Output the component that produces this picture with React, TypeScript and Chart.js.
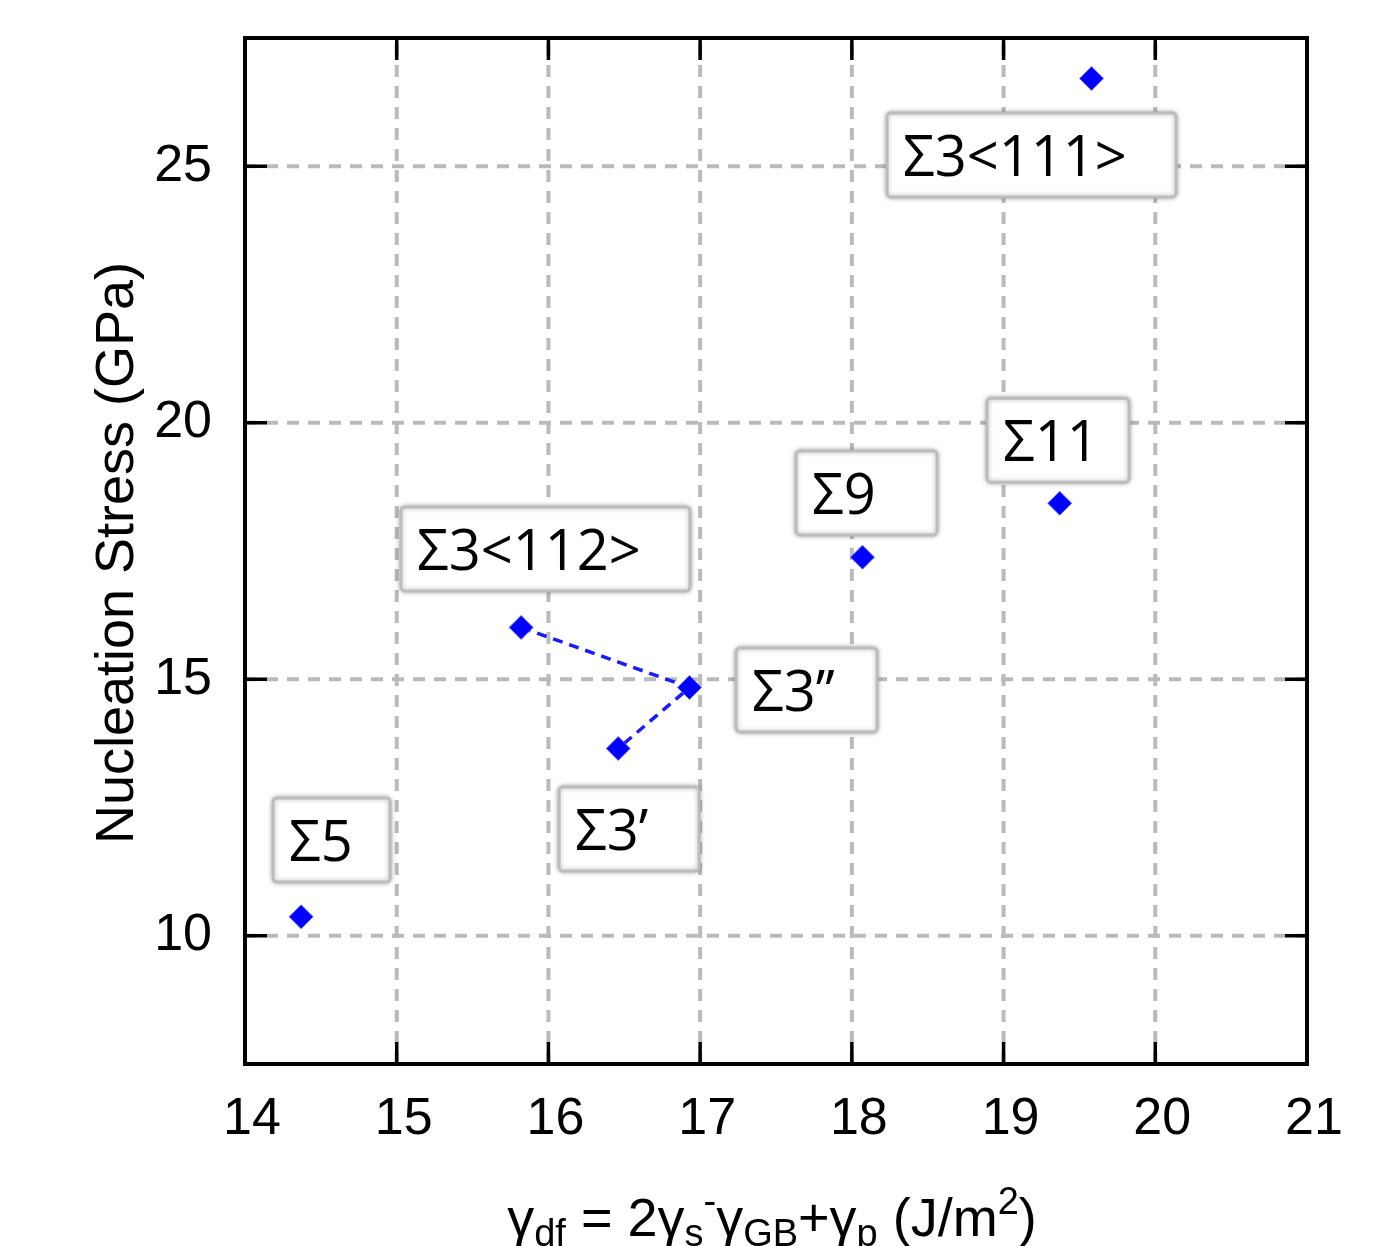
import { useEffect, useRef } from "react";
import { Chart, registerables } from "chart.js";

Chart.register(...registerables);

// ---- data ----
const categories = ["Σ5", "Σ3<112>", "Σ3’’", "Σ3’", "Σ9", "Σ11", "Σ3<111>"];
const xValues = [14.37, 15.82, 16.93, 16.46, 18.07, 19.37, 19.58];
const yValues = [10.37, 16.01, 14.84, 13.65, 17.38, 18.43, 26.71];
const linkedIndices = [1, 2, 3];
const xTicks = [14, 15, 16, 17, 18, 19, 20, 21];
const yTicks = [10, 15, 20, 25];
const xRange = [14, 21];
const yRange = [7.5, 27.5];

// ---- annotation placement (data units of box top-left) ----
const labelAnchorX = [14.185, 15.028, 17.237, 16.07, 17.632, 18.891, 18.232];
const labelAnchorY = [12.685, 18.36, 15.61, 12.9, 19.45, 20.48, 26.04];
const labelBoxWidths = [117, 289, 141, 140, 141, 142, 289];
const labelBoxHeight = 84;

const AXIS_FONT = "'Liberation Sans', Arial, sans-serif";
const LABEL_FONT = "'Open Sans', 'Noto Sans', sans-serif";

const framePlugin = {
  id: "framePlugin",
  beforeDatasetsDraw(chart: any) {
    const { ctx, chartArea: a, scales } = chart;
    const x = scales.x;
    const y = scales.y;
    ctx.save();
    ctx.strokeStyle = "#bababa";
    ctx.lineWidth = 4;
    ctx.setLineDash([12, 9]);
    xTicks.forEach((v) => {
      if (v <= xRange[0] || v >= xRange[1]) return;
      const px = x.getPixelForValue(v);
      ctx.beginPath();
      ctx.moveTo(px, a.bottom);
      ctx.lineTo(px, a.top);
      ctx.stroke();
    });
    yTicks.forEach((v) => {
      const py = y.getPixelForValue(v);
      ctx.beginPath();
      ctx.moveTo(a.left, py);
      ctx.lineTo(a.right, py);
      ctx.stroke();
    });
    ctx.restore();
  },
  afterDatasetsDraw(chart: any) {
    const { ctx, chartArea: a, scales } = chart;
    const x = scales.x;
    const y = scales.y;
    // annotation boxes
    ctx.save();
    categories.forEach((name, i) => {
      const bx = x.getPixelForValue(labelAnchorX[i]);
      const by = y.getPixelForValue(labelAnchorY[i]);
      const w = labelBoxWidths[i];
      const h = labelBoxHeight;
      ctx.save();
      ctx.shadowColor = "rgba(0,0,0,0.28)";
      ctx.shadowBlur = 5;
      ctx.fillStyle = "#ffffff";
      ctx.strokeStyle = "#bcbcbc";
      ctx.lineWidth = 3;
      ctx.beginPath();
      ctx.roundRect(bx, by, w, h, 4);
      ctx.fill();
      ctx.stroke();
      ctx.restore();
      ctx.fillStyle = "#000000";
      ctx.font = `56px ${LABEL_FONT}`;
      ctx.textAlign = "left";
      ctx.textBaseline = "alphabetic";
      ctx.fillText(name, bx + 16, by + h / 2 + 21);
    });
    ctx.restore();

    // frame and inner ticks
    ctx.save();
    ctx.strokeStyle = "#000000";
    ctx.lineWidth = 4;
    ctx.setLineDash([]);
    ctx.strokeRect(a.left, a.top, a.right - a.left, a.bottom - a.top);
    const tl = 22;
    ctx.lineWidth = 3.5;
    xTicks.forEach((v) => {
      if (v <= xRange[0] || v >= xRange[1]) return;
      const px = x.getPixelForValue(v);
      ctx.beginPath();
      ctx.moveTo(px, a.bottom);
      ctx.lineTo(px, a.bottom - tl);
      ctx.moveTo(px, a.top);
      ctx.lineTo(px, a.top + tl);
      ctx.stroke();
    });
    yTicks.forEach((v) => {
      const py = y.getPixelForValue(v);
      ctx.beginPath();
      ctx.moveTo(a.left, py);
      ctx.lineTo(a.left + tl, py);
      ctx.moveTo(a.right, py);
      ctx.lineTo(a.right - tl, py);
      ctx.stroke();
    });
    ctx.restore();
  },
  afterDraw(chart: any) {
    const { ctx, chartArea: a } = chart;
    ctx.save();
    ctx.fillStyle = "#000000";
    // y title
    ctx.save();
    ctx.font = `54px ${AXIS_FONT}`;
    ctx.textAlign = "center";
    ctx.textBaseline = "alphabetic";
    ctx.translate(133, (a.top + a.bottom) / 2 + 2);
    ctx.rotate(-Math.PI / 2);
    ctx.fillText("Nucleation Stress (GPa)", 0, 0);
    ctx.restore();

    // x title with subscripts
    const main = 54;
    const small = 38;
    const parts: { t: string; k: "n" | "sub" | "sup" }[] = [
      { t: "γ", k: "n" },
      { t: "df", k: "sub" },
      { t: " = 2γ", k: "n" },
      { t: "s", k: "sub" },
      { t: "-", k: "sup" },
      { t: "γ", k: "n" },
      { t: "GB", k: "sub" },
      { t: "+γ", k: "n" },
      { t: "p", k: "sub" },
      { t: " (J/m", k: "n" },
      { t: "2", k: "sup" },
      { t: ")", k: "n" },
    ];
    const widths = parts.map((p) => {
      ctx.font = `${p.k === "n" ? main : small}px ${AXIS_FONT}`;
      return ctx.measureText(p.t).width;
    });
    const total = widths.reduce((s, w) => s + w, 0);
    let cx = (a.left + a.right) / 2 - total / 2 - 4;
    const base = 1236;
    ctx.textAlign = "left";
    ctx.textBaseline = "alphabetic";
    parts.forEach((p, i) => {
      ctx.font = `${p.k === "n" ? main : small}px ${AXIS_FONT}`;
      const dy = p.k === "sub" ? 10 : p.k === "sup" ? -22 : 0;
      ctx.fillText(p.t, cx, base + dy);
      cx += widths[i];
    });
    ctx.restore();
  },
};

const zeroPad = (s: any) => {
  s.paddingTop = 0;
  s.paddingBottom = 0;
  s.paddingLeft = 0;
  s.paddingRight = 0;
};

export default function App() {
  const ref = useRef<HTMLCanvasElement | null>(null);

  useEffect(() => {
    if (!ref.current) return;
    const points = xValues.map((v, i) => ({ x: v, y: yValues[i] }));
    const linked = linkedIndices.map((i) => ({ x: xValues[i], y: yValues[i] }));
    const chart = new Chart(ref.current, {
      type: "scatter",
      data: {
        datasets: [
          {
            label: "GB",
            data: points,
            pointStyle: "rectRot",
            pointRadius: 12,
            pointHoverRadius: 12,
            backgroundColor: "#0000ff",
            borderColor: "rgba(110,110,255,0.9)",
            borderWidth: 1,
          },
          {
            label: "Σ3 link",
            data: linked,
            showLine: true,
            borderColor: "#1a1aff",
            borderWidth: 3.5,
            borderDash: [10, 7],
            pointRadius: 0,
            fill: false,
          } as any,
        ],
      },
      options: {
        animation: false,
        responsive: false,
        devicePixelRatio: 1,
        layout: { padding: { top: 38, right: 93, left: 0, bottom: 0 } },
        plugins: { legend: { display: false }, tooltip: { enabled: false } },
        scales: {
          x: {
            type: "linear",
            min: xRange[0],
            max: xRange[1],
            afterFit: (s: any) => {
              s.height = 182;
              zeroPad(s);
            },
            afterBuildTicks: (s: any) => {
              s.ticks = xTicks.map((v) => ({ value: v }));
            },
            grid: { display: false, drawTicks: false },
            border: { display: false },
            ticks: {
              color: "#000000",
              font: { family: AXIS_FONT, size: 52 },
              padding: 24,
              labelOffset: 7,
              maxRotation: 0,
              autoSkip: false,
            },
          },
          y: {
            type: "linear",
            min: yRange[0],
            max: yRange[1],
            afterFit: (s: any) => {
              s.width = 245;
              zeroPad(s);
            },
            afterBuildTicks: (s: any) => {
              s.ticks = yTicks.map((v) => ({ value: v }));
            },
            grid: { display: false, drawTicks: false },
            border: { display: false },
            ticks: {
              color: "#000000",
              font: { family: AXIS_FONT, size: 52 },
              padding: 33,
              autoSkip: false,
            },
          },
        },
      },
      plugins: [framePlugin],
    });
    return () => chart.destroy();
  }, []);

  return (
    <div style={{ position: "absolute", left: 0, top: 0, width: 1400, height: 1246, background: "#ffffff" }}>
      <canvas ref={ref} width={1400} height={1246} style={{ display: "block", width: 1400, height: 1246 }} />
    </div>
  );
}
